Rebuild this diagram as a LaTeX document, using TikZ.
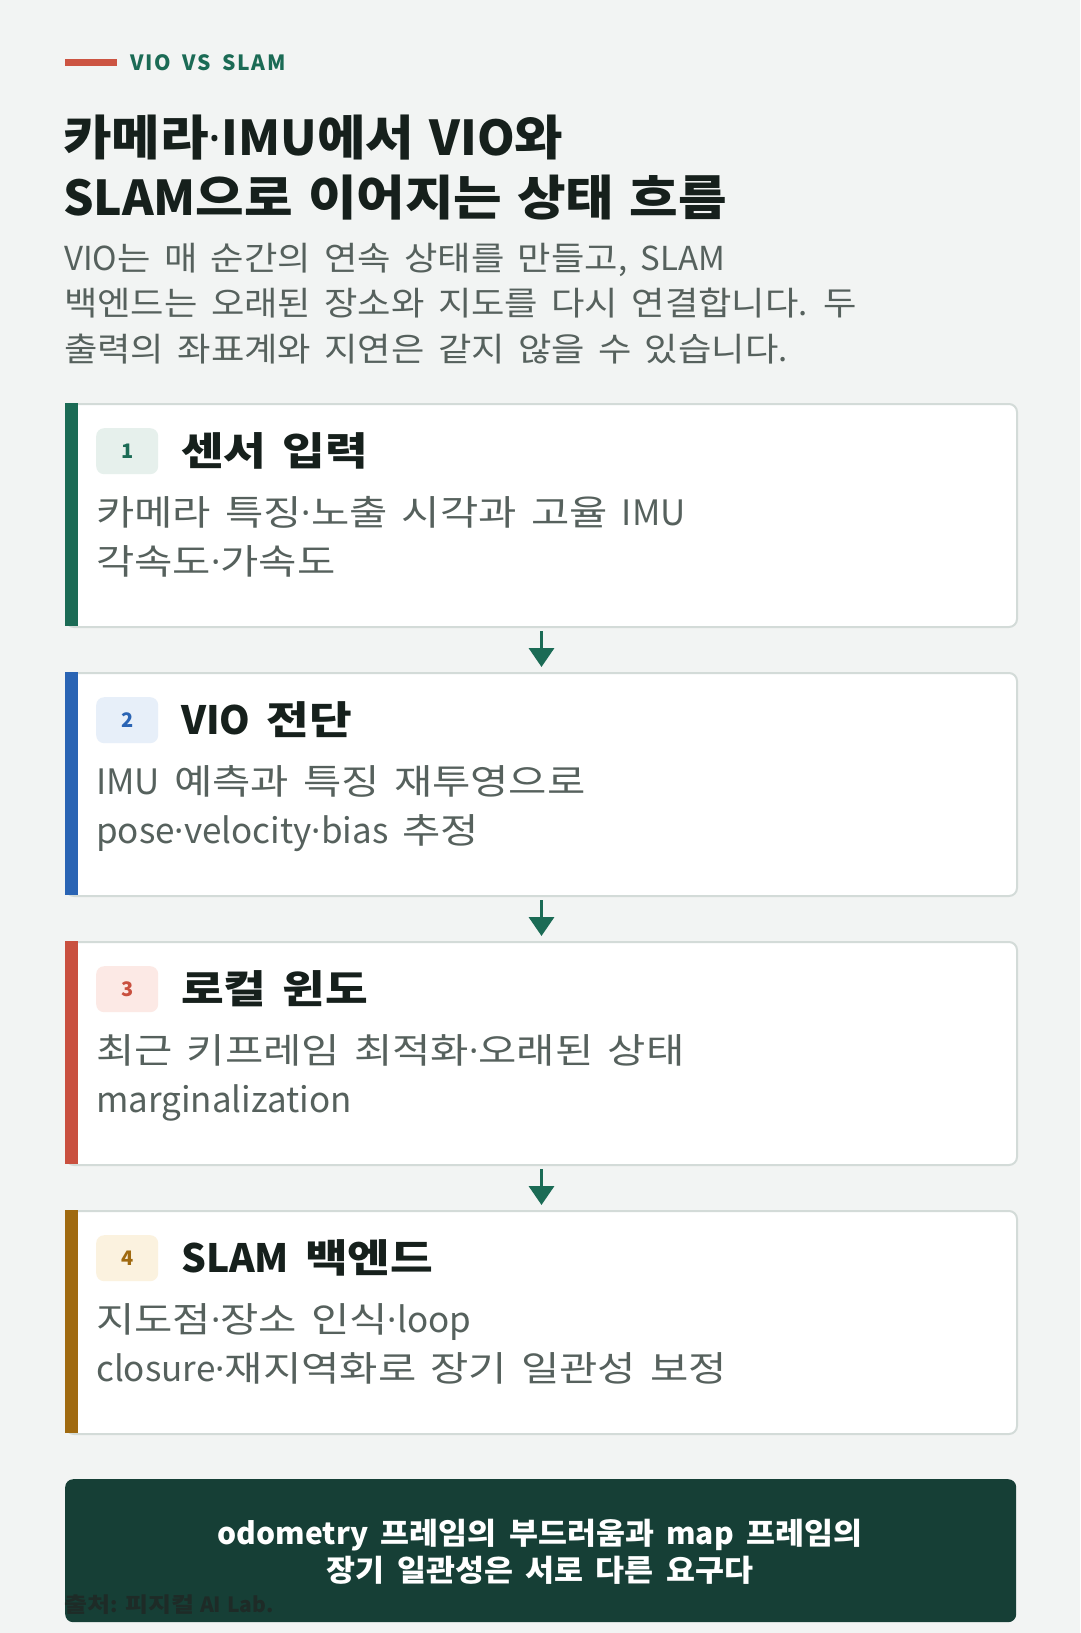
\documentclass[tikz,border=0pt]{standalone}
\usepackage{fontspec}
\setmainfont{Noto Sans CJK KR}[WordSpace=1.8]
\newfontfamily\hangulwide{Noto Sans CJK KR}[FakeStretch=1.19,WordSpace=1.8]
\newfontfamily\hangulmid{Noto Sans CJK KR}[FakeStretch=1.1,WordSpace=1.8]
\newfontfamily\hangulsoft{Noto Sans CJK KR}[FakeStretch=1.05,WordSpace=1.8]
\newfontfamily\latinsans{Noto Sans}
\let\hangulfont\hangulwide
\newcommand\wordgap[1]{\spaceskip #1pt\relax}
% wider hangul and a narrow middle dot, switched per character class
\XeTeXinterchartokenstate=1
\newXeTeXintercharclass\hangulclass
\newXeTeXintercharclass\dotclass
\newcount\hcode
\hcode="AC00
\loop\ifnum\hcode<"D7A4 \XeTeXcharclass\hcode=\hangulclass \advance\hcode by 1 \repeat
\XeTeXcharclass"00B7=\dotclass
\XeTeXinterchartoks 0 \hangulclass = {\hangulfont}
\XeTeXinterchartoks 4095 \hangulclass = {\hangulfont}
\XeTeXinterchartoks \dotclass \hangulclass = {\hangulfont}
\XeTeXinterchartoks \hangulclass 0 = {\rmfamily}
\XeTeXinterchartoks \hangulclass 4095 = {\rmfamily}
\XeTeXinterchartoks \dotclass 0 = {\rmfamily}
\XeTeXinterchartoks \dotclass 4095 = {\rmfamily}
\XeTeXinterchartoks 0 \dotclass = {\latinsans}
\XeTeXinterchartoks \hangulclass \dotclass = {\latinsans}
\usetikzlibrary{arrows.meta}

\definecolor{bgpaper}{HTML}{F2F4F3}
\definecolor{accentred}{HTML}{CC5442}
\definecolor{deepgreen}{HTML}{1B6B55}
\definecolor{inkdark}{HTML}{16201C}
\definecolor{inkgray}{HTML}{56615D}
\definecolor{cardline}{HTML}{D3DBD8}
\definecolor{stepblue}{HTML}{2A64B4}
\definecolor{stepred}{HTML}{C9503F}
\definecolor{stepgold}{HTML}{A06A10}
\definecolor{tintgreen}{HTML}{E6F0EC}
\definecolor{tintblue}{HTML}{E7EFF9}
\definecolor{tintred}{HTML}{FCE9E5}
\definecolor{tintgold}{HTML}{FBF2DF}
\definecolor{notebox}{HTML}{163F36}
\definecolor{sourceink}{HTML}{1E2B27}

\begin{document}
\begin{tikzpicture}[x=1pt,y=-1pt,
  card/.style={draw=cardline,line width=2pt,fill=white,rounded corners=8pt,
    minimum width=951pt,minimum height=223pt,anchor=north west,inner sep=0pt},
  badge/.style={rounded corners=8pt,minimum width=62pt,minimum height=46pt,
    anchor=north west,inner sep=0pt,font=\fontsize{20}{20}\selectfont\bfseries},
  cardtitle/.style={anchor=west,inner sep=0pt,text=inkdark,
    font=\fontsize{39}{39}\selectfont\bfseries},
  cardbody/.style={anchor=north west,inner sep=0pt,align=left,text=inkgray,
    font=\fontsize{35}{49}\selectfont},
  flowarrow/.style={draw=deepgreen,line width=3.5pt,
    -{Triangle[width=25pt,length=19pt]},shorten <=3pt,shorten >=5pt}]

\useasboundingbox[fill=bgpaper] (0,0) rectangle (1080,1633);

% heading
\fill[accentred] (65,59) rectangle (117,66);
\node[anchor=west,inner sep=0pt,text=deepgreen,
  font=\fontsize{21}{21}\selectfont\bfseries\addfontfeature{LetterSpace=8}] (kicker) at (130,63) {VIO VS SLAM};
\node[anchor=north west,inner sep=0pt,align=left,text=inkdark,
  font=\fontsize{48}{60}\selectfont\bfseries\let\hangulfont\hangulmid\wordgap{15}] (title) at (63,115)
  {카메라·IMU에서 VIO와\\SLAM으로 이어지는 상태 흐름};
\node[anchor=north west,inner sep=0pt,align=left,text=inkgray,
  font=\fontsize{33}{45.5}\selectfont\let\hangulfont\hangulmid] (lead) at (64,243)
  {VIO는 매 순간의 연속 상태를 만들고, SLAM\\백엔드는 오래된 장소와 지도를 다시 연결합니다. 두\\출력의 좌표계와 지연은 같지 않을 수 있습니다.};

% step cards
\node[card] (card1) at (65,403) {};
\fill[deepgreen] (65,403) rectangle (78,626);
\node[badge,fill=tintgreen,text=deepgreen] (num1) at (96,428) {1};
\node[cardtitle] (head1) at (181,451) {센서 입력};
\node[cardbody] (body1) at (96,496) {카메라 특징·노출 시각과 고율 IMU\\각속도·가속도};

\node[card] (card2) at (65,672) {};
\fill[stepblue] (65,672) rectangle (78,895);
\node[badge,fill=tintblue,text=stepblue] (num2) at (96,697) {2};
\node[cardtitle] (head2) at (181,720) {VIO 전단};
\node[cardbody] (body2) at (96,765) {IMU 예측과 특징 재투영으로\\pose·velocity·bias 추정};

\node[card] (card3) at (65,941) {};
\fill[stepred] (65,941) rectangle (78,1164);
\node[badge,fill=tintred,text=stepred] (num3) at (96,966) {3};
\node[cardtitle] (head3) at (181,989) {로컬 윈도};
\node[cardbody] (body3) at (96,1034) {최근 키프레임 최적화·오래된 상태\\marginalization};

\node[card] (card4) at (65,1210) {};
\fill[stepgold] (65,1210) rectangle (78,1433);
\node[badge,fill=tintgold,text=stepgold] (num4) at (96,1235) {4};
\node[cardtitle] (head4) at (181,1258) {SLAM 백엔드};
\node[cardbody] (body4) at (96,1303) {지도점·장소 인식·loop\\closure·재지역화로 장기 일관성 보정};

\draw[flowarrow] (card1) -- (card2);
\draw[flowarrow] (card2) -- (card3);
\draw[flowarrow] (card3) -- (card4);

% closing note
\node[fill=notebox,rounded corners=8pt,minimum width=951pt,minimum height=143pt,
  anchor=north west,inner sep=0pt] (note) at (65,1479) {};
\node[align=center,inner sep=0pt,text=white,
  font=\fontsize{30}{37}\selectfont\bfseries\let\hangulfont\hangulsoft] (notetext) at (540,1552)
  {odometry 프레임의 부드러움과 map 프레임의\\장기 일관성은 서로 다른 요구다};
\node[anchor=west,inner sep=0pt,text=sourceink,
  font=\fontsize{21}{21}\selectfont\bfseries\wordgap{6}] (source) at (64,1605) {출처: 피지컬 AI Lab.};

\end{tikzpicture}
\end{document}
